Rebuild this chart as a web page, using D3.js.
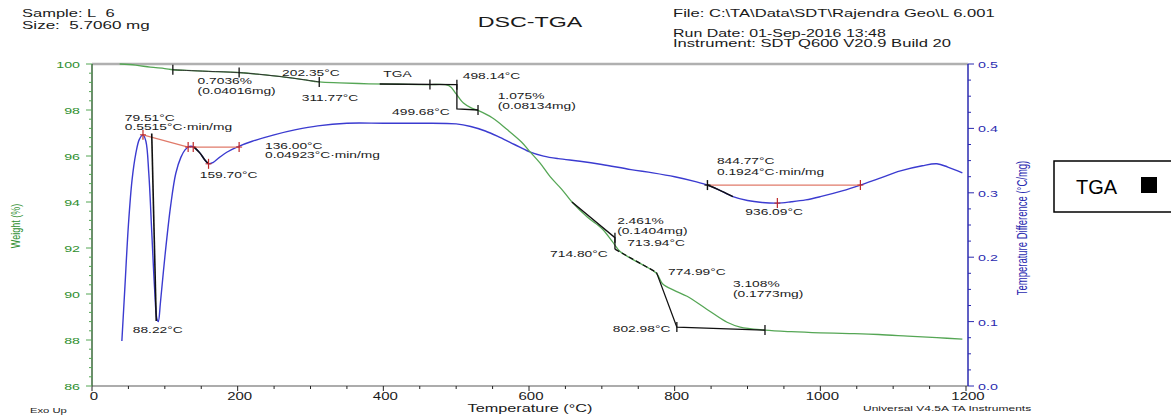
<!DOCTYPE html>
<html><head><meta charset="utf-8">
<script src="https://cdn.jsdelivr.net/npm/d3@7"></script>
<style>body{margin:0;background:#fff}svg{display:block}text{font-family:"Liberation Sans",Arial,sans-serif}</style>
</head><body><svg id="c" width="1171" height="415"></svg>
<script>
// ---- data ----
const tgaT = [38,60,80,100,111,130,160,200,230,260,290,312,340,380,420,460,490,500,510,520,530,550,570,590,601,615,629,645,659,680,700,714,725,740,760,775,784,800,817,844,872,890,924,960,1000,1040,1080,1120,1160,1195];
const tgaW = [100.0,99.95,99.86,99.8,99.75,99.72,99.68,99.63,99.55,99.45,99.32,99.22,99.18,99.14,99.12,99.1,99.06,98.7,98.3,98.1,97.98,97.65,97.15,96.6,96.2,95.7,95.1,94.55,94.0,93.35,92.85,92.3,91.85,91.55,91.2,90.9,90.42,90.15,89.9,89.34,88.77,88.56,88.43,88.36,88.31,88.28,88.24,88.17,88.1,88.04];
const dscT = [41,45,50,55,60,65,70,74,78,82,86,89,91,94,100,108,115,122,128,134,140,148,155,160,166,175,185,199,220,250,280,310,350,400,450,500,520,540,560,580,600,620,640,670,700,740,770,800,830,845,860,880,900,920,941,960,980,1000,1030,1055,1080,1110,1140,1160,1175,1195];
const dscV = [0.07,0.15,0.25,0.32,0.36,0.383,0.39,0.38,0.33,0.24,0.15,0.105,0.10,0.13,0.20,0.28,0.33,0.355,0.367,0.372,0.371,0.362,0.351,0.345,0.347,0.355,0.363,0.371,0.380,0.390,0.398,0.404,0.408,0.408,0.408,0.407,0.403,0.396,0.386,0.375,0.364,0.357,0.353,0.349,0.344,0.336,0.331,0.325,0.317,0.312,0.305,0.294,0.288,0.285,0.284,0.286,0.289,0.294,0.303,0.312,0.322,0.334,0.342,0.345,0.340,0.331];
const xTicks = [0,200,400,600,800,1000,1200];
const xTickLabels = ["0","200","400","600","800","1000","1200"];
const wTicks = [86,88,90,92,94,96,98,100];
const wTickLabels = ["86","88","90","92","94","96","98","100"];
const vTicks = [0,0.1,0.2,0.3,0.4,0.5];
const vTickLabels = ["0.0","0.1","0.2","0.3","0.4","0.5"];
// TGA step analysis (temperature, weight %)
const tgaStepLines = [
  [[395,99.13],[501,99.1],[501,98.05],[530,98.0]],
  [[659,94.0],[718,92.45],[718,91.95]],
  [[775,90.94],[803,88.56],[924,88.43]]
];
const tgaDashed = [[718,91.95],[775,90.94]];
const tgaMarks = [[111,99.75],[202,99.63],[312,99.22],[464,99.11],[501,99.1],[530,98.0],[718,92.45],[803,88.56],[924,88.43]];
// DSC peak analysis (temperature, °C/mg)
const dscRed = [[[70,0.390],[132,0.371]],[[139,0.371],[202,0.371]],[[845,0.312],[1055,0.312]]];
const dscBlack = [[[82,0.392],[88.2,0.101]]];
const dscBlackRanges = [[139,162],[845,890]];
const dscRedMarks = [[70,0.390],[132,0.371],[139,0.371],[202,0.371],[160,0.345],[941,0.284],[1055,0.312]];
const dscBlackMarks = [[845,0.312]];
// annotation labels
const tgaLabels = [
  ["0.7036%",145,99.13],["(0.04016mg)",145,98.70],["202.35°C",261,99.48],["311.77°C",288,98.40],
  ["TGA",400,99.44],["498.14°C",509,99.35],["499.68°C",412,97.79],["1.075%",557,98.48],["(0.08134mg)",557,98.05],
  ["2.461%",721,93.06],["(0.1404mg)",721,92.63],["713.94°C",735,92.07],["714.80°C",629,91.63],
  ["774.99°C",791,90.81],["3.108%",880,90.29],["(0.1773mg)",880,89.86],["802.98°C",715,88.34]
];
const dscLabels = [
  ["79.51°C",45,0.4115],["0.5515°C·min/mg",45,0.3975],["136.00°C",237.5,0.368],["0.04923°C·min/mg",237.5,0.354],
  ["159.70°C",148,0.323],["88.22°C",56,0.082],["844.77°C",858,0.345],["0.1924°C·min/mg",858,0.328],["936.09°C",897,0.266]
];

// ---- drawing ----
const svg = d3.select("#c");
const L = 92, R = 966, T = 64, B = 386;
const x = d3.scaleLinear().domain([0,1200]).range([L,R]);
const yW = d3.scaleLinear().domain([86,100]).range([B,T]);
const yV = d3.scaleLinear().domain([0,0.5]).range([B,T]);
const SX = 1.45;
function txt(px,py,s,o={}){
  return svg.append("text")
    .attr("transform",`translate(${px},${py}) ${o.rot?`scale(${o.sx||SX},1) rotate(${o.rot})`:`scale(${o.sx||SX},1)`}`)
    .attr("font-size",o.fs||10).attr("fill",o.fill||"#1a1a1a")
    .attr("text-anchor",o.anchor||"start").attr("font-weight",o.fw||"normal").text(s);
}
const green="#55a655", blue="#3b3bd0", red="#e07a6a";

// header
txt(22,17,"Sample: L\u00a0\u00a06",{fs:11,sx:1.5});
txt(22,29,"Size:\u00a0\u00a05.7060 mg",{fs:11,sx:1.55});
txt(530,27,"DSC-TGA",{fs:15,sx:1.55,anchor:"middle"});
txt(673,17,"File: C:\\TA\\Data\\SDT\\Rajendra Geo\\L 6.001",{fs:10.5,sx:1.58});
txt(673,37,"Run Date: 01-Sep-2016 13:48",{fs:10.5,sx:1.52});
txt(673,47,"Instrument: SDT Q600 V20.9 Build 20",{fs:10.5,sx:1.58});

// frame
svg.append("line").attr("x1",L).attr("x2",R+2).attr("y1",T).attr("y2",T).attr("stroke","#b0b0b0").attr("stroke-width",2.5);
svg.append("line").attr("x1",L).attr("x2",R+2).attr("y1",B).attr("y2",B).attr("stroke","#909090").attr("stroke-width",1.5);

// bottom axis
const xMinor = d3.range(0,1201,50);
svg.append("g").selectAll("line").data(xMinor).join("line")
  .attr("x1",d=>x(d)).attr("x2",d=>x(d)).attr("y1",B).attr("y2",d=>B+(d%200===0?5:3)).attr("stroke","#222").attr("stroke-width",1);
xTicks.forEach((t,i)=>txt(x(t)+2,400,xTickLabels[i],{fs:10,sx:1.5,anchor:"middle"}));
txt(530,412,"Temperature (°C)",{fs:10.5,sx:1.55,anchor:"middle"});
txt(30,413,"Exo Up",{fs:7.5,sx:1.5});
txt(863,411,"Universal V4.5A TA Instruments",{fs:8,sx:1.5});

// left axis
svg.append("line").attr("x1",L).attr("x2",L).attr("y1",T).attr("y2",B).attr("stroke","#3a6a3a").attr("stroke-width",1.5);
const wMinor = d3.range(86,100.01,0.4);
svg.append("g").selectAll("line").data(wMinor).join("line")
  .attr("x1",d=>L-(Math.abs(d/2-Math.round(d/2))<0.01?6:3)).attr("x2",L).attr("y1",d=>yW(d)).attr("y2",d=>yW(d))
  .attr("stroke",green).attr("stroke-width",1);
wTicks.forEach((t,i)=>txt(80,yW(t)+3.5,wTickLabels[i],{fs:9.5,sx:1.5,anchor:"end",fill:"#2f8f2f"}));
txt(20,226,"Weight (%)",{fs:9,sx:1.4,rot:-90,anchor:"middle",fill:"#2f8f2f"});

// right axis
svg.append("line").attr("x1",R+2).attr("x2",R+2).attr("y1",T).attr("y2",B).attr("stroke","#2b2bb0").attr("stroke-width",1.5);
const vMinor = d3.range(0,0.5001,0.025);
svg.append("g").selectAll("line").data(vMinor).join("line")
  .attr("x1",R+2).attr("x2",d=>R+2+(Math.abs(d*10-Math.round(d*10))<0.01?6:3)).attr("y1",d=>yV(d)).attr("y2",d=>yV(d))
  .attr("stroke","#2b2bb0").attr("stroke-width",1);
vTicks.forEach((t,i)=>txt(978,yV(t)+4,vTickLabels[i],{fs:9.5,sx:1.5,fill:"#2b2bb0"}));
txt(1027,228,"Temperature Difference (°C/mg)",{fs:9.5,sx:1.5,rot:-90,anchor:"middle",fill:"#2b2bb0"});

// curves
const lw = d3.line().x(d=>x(d[0])).y(d=>yW(d[1])).curve(d3.curveCatmullRom.alpha(0.5));
const lv = d3.line().x(d=>x(d[0])).y(d=>yV(d[1])).curve(d3.curveCatmullRom.alpha(0.5));
const tgaData = tgaT.map((t,i)=>[t,tgaW[i]]);
const dscData = dscT.map((t,i)=>[t,dscV[i]]);
svg.append("path").attr("d",lv(dscData)).attr("fill","none").attr("stroke",blue).attr("stroke-width",1.4);
svg.append("path").attr("d",lw(tgaData)).attr("fill","none").attr("stroke",green).attr("stroke-width",1.3);

// DSC analysis
const ll = d3.line().x(d=>x(d[0])).y(d=>yV(d[1]));
dscRed.forEach(s=>svg.append("path").attr("d",ll(s)).attr("fill","none").attr("stroke",red).attr("stroke-width",1.2));
dscBlackRanges.forEach(r=>svg.append("path").attr("d",lv(dscData.filter(d=>d[0]>=r[0]&&d[0]<=r[1]))).attr("fill","none").attr("stroke","#111").attr("stroke-width",1.5));
dscBlack.forEach(s=>svg.append("path").attr("d",ll(s)).attr("fill","none").attr("stroke","#111").attr("stroke-width",1.6));
dscRedMarks.forEach(d=>{
  svg.append("line").attr("x1",x(d[0])).attr("x2",x(d[0])).attr("y1",yV(d[1])-5).attr("y2",yV(d[1])+5).attr("stroke","#c02828").attr("stroke-width",1.2);
  svg.append("line").attr("x1",x(d[0])-3).attr("x2",x(d[0])+3).attr("y1",yV(d[1])).attr("y2",yV(d[1])).attr("stroke","#c02828").attr("stroke-width",1);
});
dscBlackMarks.forEach(d=>{
  svg.append("line").attr("x1",x(d[0])).attr("x2",x(d[0])).attr("y1",yV(d[1])-5).attr("y2",yV(d[1])+5).attr("stroke","#111").attr("stroke-width",1.4);
  svg.append("line").attr("x1",x(d[0])-3).attr("x2",x(d[0])+3).attr("y1",yV(d[1])).attr("y2",yV(d[1])).attr("stroke","#111").attr("stroke-width",1.2);
});

// TGA analysis
const lt = d3.line().x(d=>x(d[0])).y(d=>yW(d[1]));
svg.append("path").attr("d",lw(tgaData.filter(d=>d[0]>=111&&d[0]<=312))).attr("fill","none").attr("stroke","#333").attr("stroke-width",1);
tgaStepLines.forEach(s=>svg.append("path").attr("d",lt(s)).attr("fill","none").attr("stroke","#111").attr("stroke-width",1.3));
svg.append("path").attr("d",lt(tgaDashed)).attr("fill","none").attr("stroke","#111").attr("stroke-width",1.3).attr("stroke-dasharray","5,3");
tgaMarks.forEach(d=>svg.append("line").attr("x1",x(d[0])).attr("x2",x(d[0])).attr("y1",yW(d[1])-5).attr("y2",yW(d[1])+5).attr("stroke","#111").attr("stroke-width",1.3));

// labels
tgaLabels.forEach(d=>txt(x(d[1]),yW(d[2]),d[0],{fs:9.5}));
dscLabels.forEach(d=>txt(x(d[1]),yV(d[2]),d[0],{fs:9.5}));

// legend box
svg.append("rect").attr("x",1054).attr("y",161).attr("width",130).attr("height",51).attr("fill","#fff").attr("stroke","#000").attr("stroke-width",1.5);
svg.append("text").attr("x",1076).attr("y",194).attr("font-size",20).attr("fill","#000").text("TGA");
svg.append("rect").attr("x",1141).attr("y",177).attr("width",16).attr("height",16).attr("fill","#000");
</script></body></html>
